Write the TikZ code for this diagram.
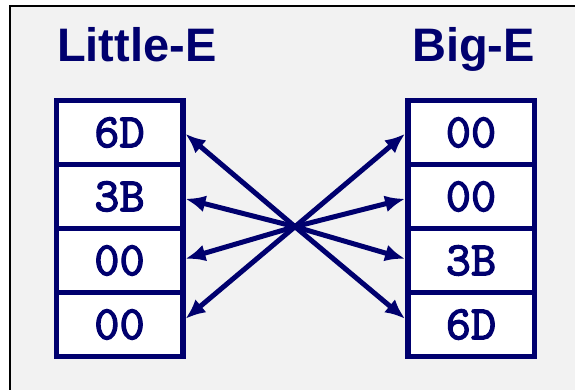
\documentclass[tikz,border=0pt]{standalone}
\usepackage{fontspec}
\newfontfamily\headfont{Liberation Sans}
\newfontfamily\cellfont[FakeBold=2.5]{lmmono10-regular.otf}
\usetikzlibrary{arrows.meta,positioning}
\definecolor{navy}{RGB}{0,0,110}
\definecolor{panel}{RGB}{242,242,242}
\tikzset{
  cell/.style = {draw=navy, fill=white, line width=5.5pt, outer sep=0pt,
                 inner sep=0pt, minimum width=126.5pt, minimum height=64pt,
                 text=navy, font=\fontsize{48}{50}\selectfont\cellfont},
  head/.style = {text=navy, inner sep=0pt,
                 font=\fontsize{47}{50}\selectfont\headfont\bfseries},
  link/.style = {draw=navy, line width=5pt}
}

\begin{document}
\begin{tikzpicture}[
  node distance=0pt,
  >={Latex[length=20pt,width=17pt]}]
\useasboundingbox (0,0) rectangle (575pt,390pt);

% grey panel behind everything
\draw[fill=panel, line width=2pt] (10pt,384pt) rectangle (590pt,-10pt);

% headings
\node[head, anchor=base west] (lt) at (57pt,328pt) {Little-E};
\node[head, anchor=base east] (bt) at (535pt,328pt) {Big-E};

% the two byte columns, stacked
\node[cell] (l1) at (119.5pt,257.5pt) {6D};
\node[cell, below=of l1] (l2) {3B};
\node[cell, below=of l2] (l3) {00};
\node[cell, below=of l3] (l4) {00};

\node[cell] (r1) at (471pt,257.5pt) {00};
\node[cell, below=of r1] (r2) {00};
\node[cell, below=of r2] (r3) {3B};
\node[cell, below=of r3] (r4) {6D};

% crossing point of the arrows
\coordinate (x) at (295pt,163.3pt);

\foreach \i/\dy in {1/-1.3,2/-2.3,3/1.7,4/5.7}
  \draw[link,->] (x) -- ([xshift=2.7pt,yshift=\dy pt]l\i.east);

\foreach \i/\dy in {1/-1.3,2/-2.3,3/1.7,4/5.7}
  \draw[link,->] (x) -- ([xshift=-2.7pt,yshift=\dy pt]r\i.west);

\end{tikzpicture}
\end{document}
